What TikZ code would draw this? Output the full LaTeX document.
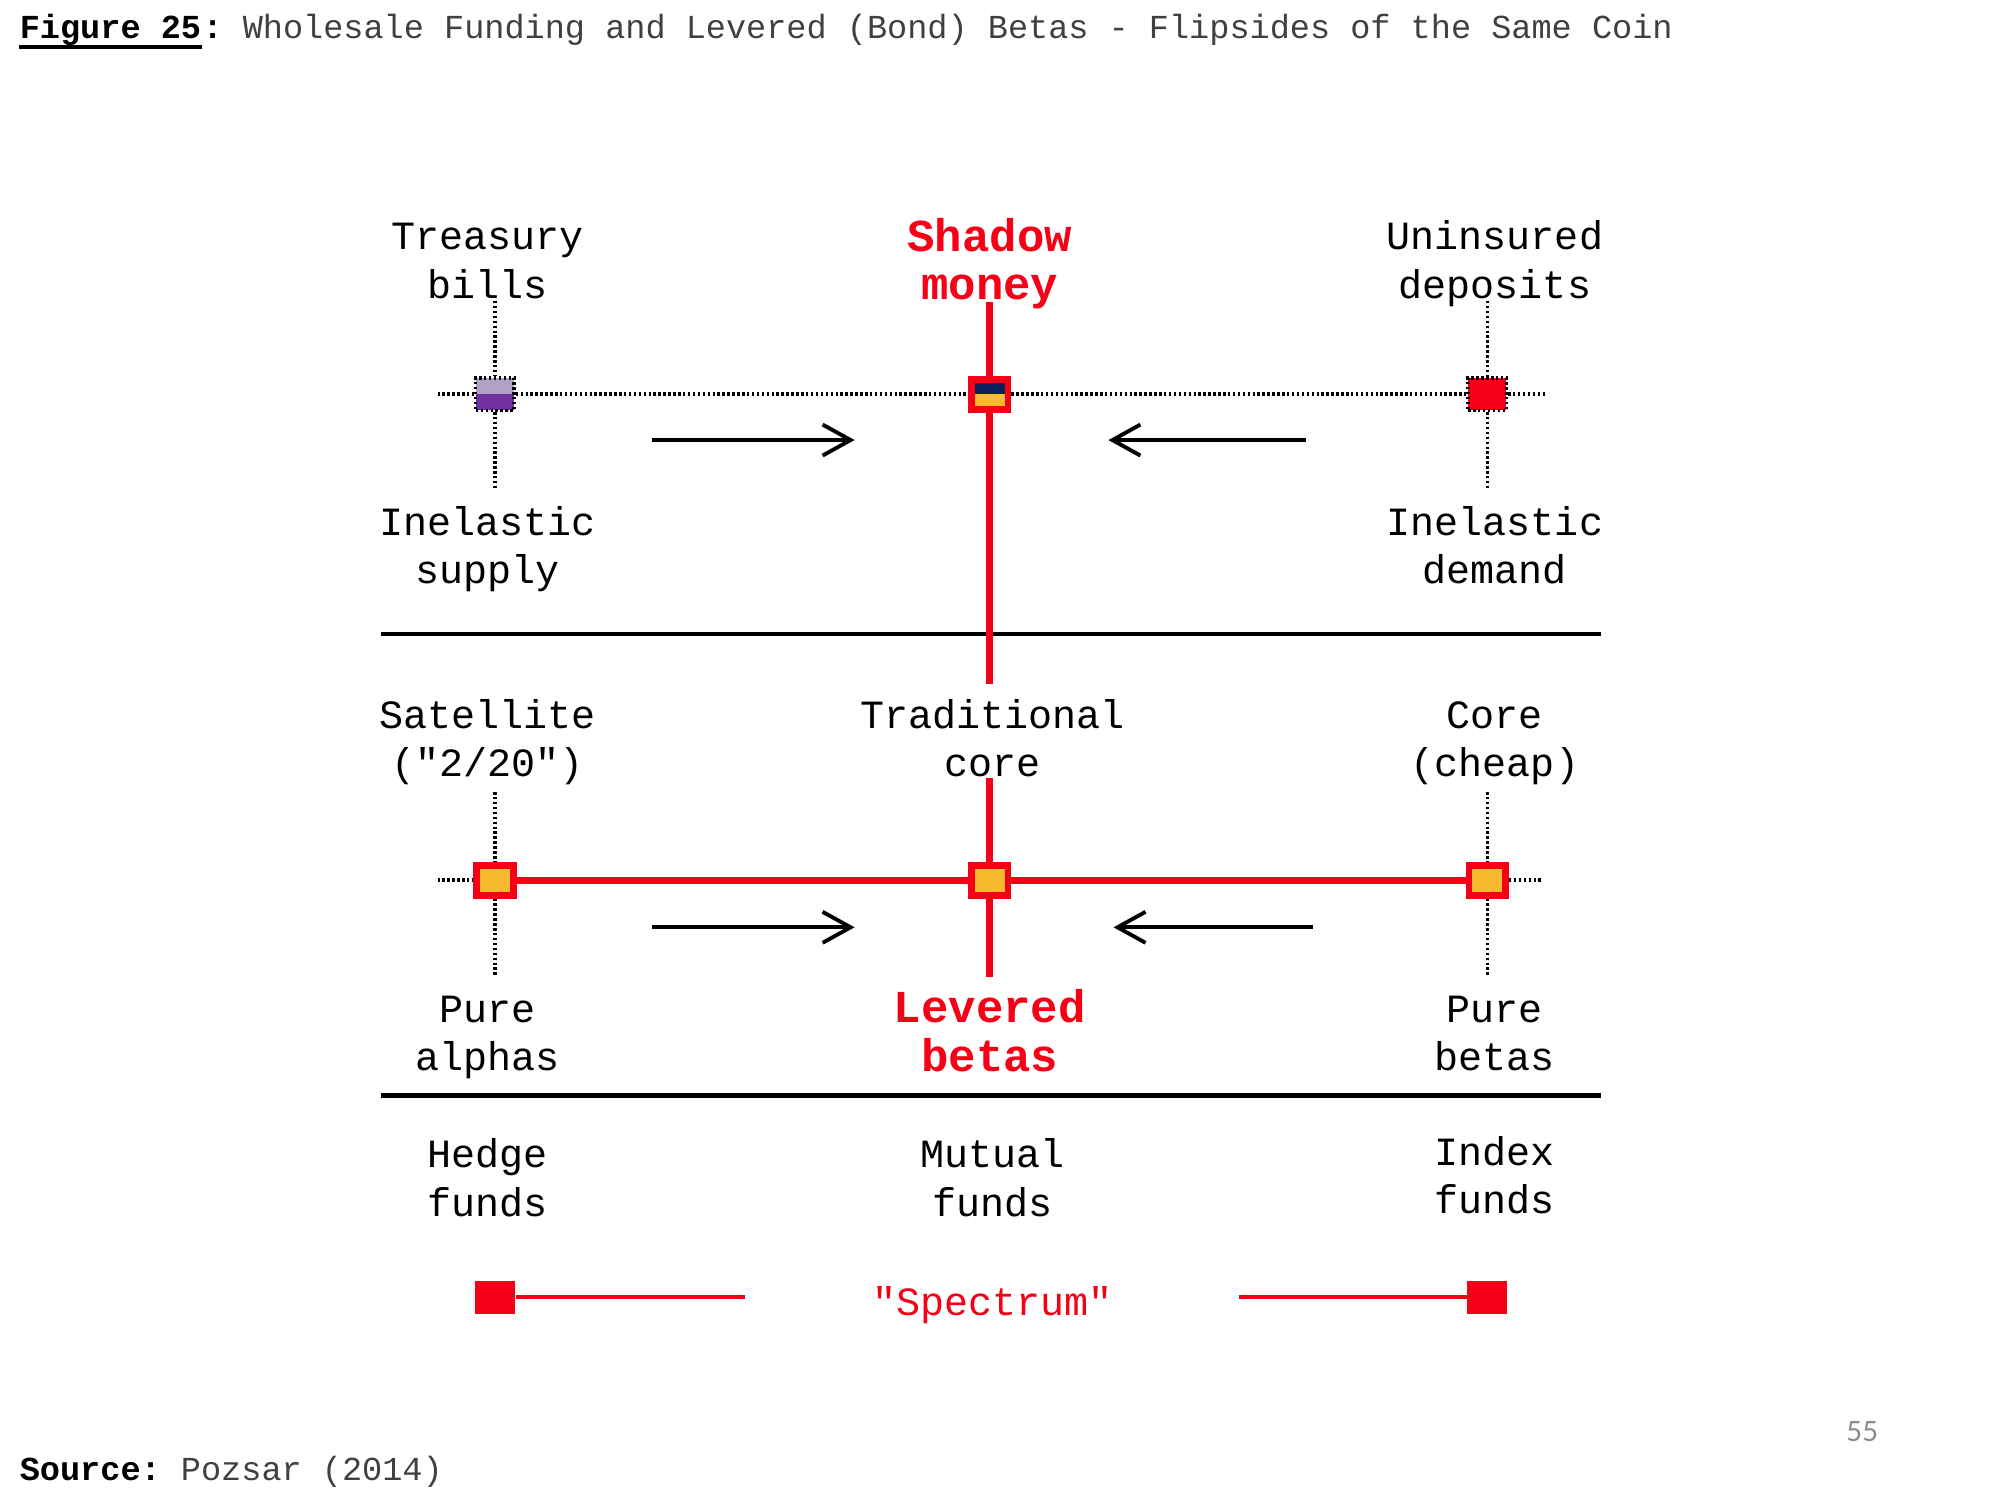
\documentclass[tikz,border=0pt]{standalone}
\usepackage{fontspec}
\setmainfont{Liberation Mono}[Ligatures=TeXOff]
\newfontfamily\pagenofont{Carlito}
\usetikzlibrary{arrows.meta}

\definecolor{pzred}{RGB}{245,0,22}
\definecolor{pzgold}{RGB}{248,187,45}
\definecolor{pznavy}{RGB}{12,31,92}
\definecolor{pzpurple}{RGB}{112,48,160}
\definecolor{pzlilac}{RGB}{178,161,199}

\tikzset{
  titletxt/.style={font=\fontsize{9.55}{11}\selectfont, anchor=base west, inner sep=0pt},
  lbl/.style={font=\fontsize{11.4}{13.8}\selectfont, align=center, anchor=base, inner sep=0pt},
  hot/.style={lbl, font=\fontsize{13}{13.8}\selectfont\bfseries, text=pzred},
  dotline/.style={line width=0.95pt, dash pattern=on 0.7pt off 0.7pt},
  redline/.style={pzred, line width=2pt},
  sepline/.style={line width=1.35pt},
  arr/.style={line width=1.1pt, -{Straight Barb[length=0.28cm, width=0.31cm]}},
  dotbox/.style={rectangle, draw, dotline, inner sep=0pt, minimum width=0.383cm, minimum height=0.325cm},
  corebox/.style={rectangle, draw=pzred, line width=1.95pt, fill=pzgold, inner sep=0pt,
    minimum width=0.365cm, minimum height=0.30cm},
  tbill/.style={dotbox, fill=pzpurple,
    path picture={\fill[pzlilac] (path picture bounding box.north west) rectangle (path picture bounding box.east);}},
  smbox/.style={corebox,
    path picture={\fill[pznavy] (path picture bounding box.north west) rectangle (path picture bounding box.east);}},
  endbox/.style={rectangle, fill=pzred, inner sep=0pt, minimum width=0.40cm, minimum height=0.33cm},
}

\begin{document}
\begin{tikzpicture}[x=0.012755cm, y=-0.012755cm]
  \useasboundingbox (0,0) rectangle (1568,1176);

  % heading
  \node[titletxt] (figno) at (15,30) {\bfseries Figure 25};
  \node[titletxt] (ttl) at (figno.base east) {\textbf{:}\textcolor{black!75}{~Wholesale Funding and Levered (Bond) Betas - Flipsides of the Same Coin}};
  \draw[line width=1.1pt] ([yshift=-0.09cm]figno.base west) -- ([yshift=-0.09cm]figno.base east);

  % upper row: funding side
  \node[tbill] (tb) at (388,309) {};
  \node[smbox] (sm) at (776,309) {};
  \node[dotbox, fill=pzred] (ud) at (1166,309) {};

  \draw[dotline] (343,309) -- (tb) -- (sm) -- (ud) -- (1212,309);
  \draw[dotline] (388,236) -- (tb) -- (388,384);
  \draw[dotline] (1166,236) -- (ud) -- (1166,384);

  % labels sit on the baseline of their last line
  \node[lbl] (tbl) at (382,234) {Treasury\\bills};
  \node[hot] (sml) at (776,235) {Shadow\\money};
  \node[lbl] (udl) at (1172,234) {Uninsured\\deposits};
  \node[lbl] (isl) at (382,457.5) {Inelastic\\supply};
  \node[lbl] (idl) at (1172,457.5) {Inelastic\\demand};

  \draw[arr] (511,345) -- (670,345);
  \draw[arr] (1024,345) -- (869,345);

  \draw[sepline] (299,497) -- (1255,497);
  \draw[redline] (776,237) -- (sm) -- (776,536);

  % lower row: investment side
  \foreach \nm/\xx in {sat/388, trc/776, cor/1166}
    \node[corebox] (\nm) at (\xx,690) {};

  \draw[dotline] (343,690) -- (sat);
  \draw[dotline] (cor) -- (1209,690);
  \draw[dotline] (388,621) -- (sat) -- (388,766);
  \draw[dotline] (1166,621) -- (cor) -- (1166,766);
  \draw[redline] (sat) -- (trc) -- (cor);
  \draw[redline] (776,610) -- (trc) -- (776,766);

  \node[lbl] (satl) at (382,609) {Satellite\\("2/20")};
  \node[lbl] (trcl) at (778,609) {Traditional\\core};
  \node[lbl] (corl) at (1172,609) {Core\\(cheap)};
  \node[lbl] (pal) at (382,839.5) {Pure\\alphas};
  \node[hot] (lbl) at (776,840) {Levered\\betas};
  \node[lbl] (pbl) at (1172,839.5) {Pure\\betas};

  \draw[arr] (511,727) -- (670,727);
  \draw[arr] (1029,727) -- (873,727);

  \draw[sepline] (299,859) -- (1255,859);

  \node[lbl] (hf) at (382,953.5) {Hedge\\funds};
  \node[lbl] (mf) at (778,953.5) {Mutual\\funds};
  \node[lbl] (ix) at (1172,951.5) {Index\\funds};

  % spectrum bar
  \node[endbox] (sl) at (388,1017) {};
  \node[endbox] (sr) at (1166,1017) {};
  \node[lbl, text=pzred] (spec) at (778,1031.5) {"Spectrum"};
  \draw[pzred, line width=1.12pt] (sl) -- (584,1017);
  \draw[pzred, line width=1.12pt] (971,1017) -- (sr);

  % footer
  \node[titletxt] (src) at (15,1160.5) {\textbf{Source:}\textcolor{black!75}{~Pozsar (2014)}};
  \node[anchor=base, inner sep=0pt, font=\pagenofont\fontsize{8.9}{10}\selectfont, text=black!45] (pg) at (1460,1130) {55};
\end{tikzpicture}
\end{document}
